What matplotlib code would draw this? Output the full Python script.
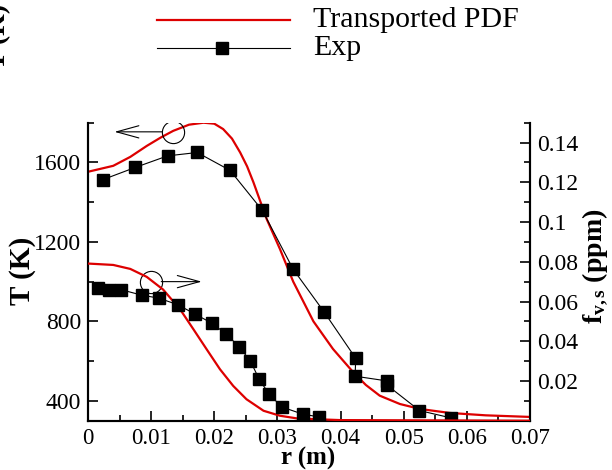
import numpy as np
import matplotlib
matplotlib.use("Agg")
import matplotlib.pyplot as plt
from matplotlib.ticker import MultipleLocator, FixedLocator, FormatStrFormatter

plt.rcParams['font.family'] = ['Liberation Serif', 'DejaVu Serif']
plt.rcParams['mathtext.fontset'] = 'custom'
plt.rcParams['mathtext.rm'] = 'Liberation Serif'
plt.rcParams['mathtext.bf'] = 'Liberation Serif:bold'
plt.rcParams['mathtext.it'] = 'Liberation Serif:italic'

# temperature, experiment
r_T_exp = [0.0024, 0.0075, 0.0126, 0.0173, 0.0225, 0.0276, 0.0325, 0.0374,
           0.0424, 0.0423, 0.0474, 0.0474, 0.0525, 0.0575]
T_exp = [1514, 1575, 1633, 1650, 1560, 1359, 1062, 847,
         614, 524, 500, 478, 351, 314]

# temperature, transported PDF
r_T_pdf = [0, 0.004, 0.0067, 0.0093, 0.0115, 0.0135, 0.016, 0.0183, 0.020,
           0.0214, 0.0228, 0.0241, 0.0252, 0.0262, 0.0283, 0.0304, 0.0325,
           0.0341, 0.0357, 0.0388, 0.042, 0.044, 0.0462, 0.0494, 0.0526,
           0.0573, 0.063, 0.07]
T_pdf = [1553, 1583, 1628, 1683, 1725, 1759, 1790, 1800, 1795,
         1768, 1720, 1650, 1580, 1500, 1315, 1164, 1000,
         900, 800, 661, 544, 480, 426, 384, 359,
         339, 327, 319]

# soot volume fraction, experiment
r_fv_exp = [0.0016, 0.0033, 0.0053, 0.0085, 0.0112, 0.0142, 0.017, 0.0196,
            0.0219, 0.0239, 0.0257, 0.0271, 0.0287, 0.0307, 0.034, 0.0366]
fv_exp = [0.0667, 0.0659, 0.0659, 0.0632, 0.0617, 0.0584, 0.0536, 0.0491,
          0.0436, 0.0373, 0.0302, 0.0209, 0.0133, 0.0069, 0.0033, 0.0019]

# soot volume fraction, transported PDF
r_fv_pdf = [0, 0.004, 0.0067, 0.0093, 0.0119, 0.0146, 0.0167, 0.0188, 0.0209,
            0.023, 0.0251, 0.0278, 0.0304, 0.033, 0.0357, 0.04, 0.07]
fv_pdf = [0.0791, 0.0784, 0.0764, 0.0724, 0.066, 0.056, 0.046, 0.0359, 0.0259,
          0.0175, 0.0108, 0.005, 0.0025, 0.0012, 0.0008, 0.0003, 0.0]

x_ticks = [0, 0.01, 0.02, 0.03, 0.04, 0.05, 0.06, 0.07]
x_labels = ['0', '0.01', '0.02', '0.03', '0.04', '0.05', '0.06', '0.07']
T_ticks = [400, 800, 1200, 1600]
fv_ticks = [0.02, 0.04, 0.06, 0.08, 0.1, 0.12, 0.14]

red = '#dd0000'
fs = 17
W, H = 612, 470

fig = plt.figure(figsize=(6.12, 4.70), dpi=100)
ax = fig.add_axes([88/W, 1-420.7/H, 442/W, 298/H])
ax2 = ax.twinx()

ax.plot(r_T_pdf, T_pdf, color=red, lw=1.6, zorder=3)
ax.plot(r_T_exp, T_exp, color='black', lw=0.8, marker='s', ms=8.5, zorder=4)
ax2.plot(r_fv_pdf, fv_pdf, color=red, lw=1.6, zorder=3)
ax2.plot(r_fv_exp, fv_exp, color='black', lw=0.8, marker='s', ms=8.5, zorder=4)

ax.set_xlim(0, 0.07)
ax.set_ylim(300, 1800)
ax2.set_ylim(0, 0.15)

ax.set_xticks(x_ticks)
ax.set_xticklabels(x_labels)
ax.xaxis.set_minor_locator(MultipleLocator(0.005))
ax.set_yticks(T_ticks)
ax.yaxis.set_minor_locator(MultipleLocator(200))
ax2.yaxis.set_major_locator(FixedLocator(fv_ticks))
ax2.yaxis.set_major_formatter(FormatStrFormatter('%g'))
ax2.yaxis.set_minor_locator(MultipleLocator(0.01))

for a in (ax, ax2):
    a.spines['top'].set_visible(False)
    for s in a.spines.values():
        s.set_linewidth(1.5)
    a.tick_params(which='both', direction='in', width=1.2, labelsize=fs)
    a.tick_params(which='major', length=7)
    a.tick_params(which='minor', length=4)
ax.tick_params(axis='x', pad=5, labelsize=16.5)
ax.tick_params(axis='y', pad=5)
ax2.tick_params(axis='y', pad=5)

# axis titles placed by hand
fig.text(308/W, 0.5/H, 'r (m)', fontsize=18, fontweight='bold',
         ha='center', va='bottom')
fig.text(23/W, 1-271/H, 'T (K)', fontsize=21, fontweight='bold',
         rotation=90, ha='center', va='center')
fig.text(595/W, 1-266/H, r'$\mathbf{f}_{\mathbf{v,s}}$ (ppm)', fontsize=20,
         fontweight='bold', rotation=90, ha='center', va='center')

# circles with arrows marking which axis each curve uses
arrow = dict(arrowstyle='->,head_length=0.8,head_width=0.22',
             mutation_scale=20, color='black', lw=0.8, shrinkA=0, shrinkB=0)
ax.plot([0.0135], [1754], marker='o', ms=16, mfc='none', mec='black', mew=0.8, zorder=5)
ax.annotate('', xy=(0.0042, 1754), xytext=(0.0118, 1754), arrowprops=arrow)
ax.plot([0.0099], [1000], marker='o', ms=16, mfc='none', mec='black', mew=0.8, zorder=5)
ax.annotate('', xy=(0.018, 1000), xytext=(0.0116, 1000), arrowprops=arrow)

# legend drawn at the top of the figure
fig.add_artist(plt.Line2D([157/W, 290/W], [1-20/H, 1-20/H],
                          color=red, lw=1.6, transform=fig.transFigure))
fig.add_artist(plt.Line2D([157/W, 290/W], [1-48/H, 1-48/H],
                          color='black', lw=0.8, transform=fig.transFigure))
fig.add_artist(plt.Line2D([222/W], [1-48/H], color='black', marker='s',
                          ms=8.5, transform=fig.transFigure))
fig.text(313/W, 1-20/H, 'Transported PDF', fontsize=21.5, va='center', ha='left')
fig.text(313/W, 1-48/H, 'Exp', fontsize=21.5, va='center', ha='left')

# cut-off label left over from the neighbouring panel
fig.text(11/W, 1-36/H, 'T (K)', fontsize=20, fontweight='bold',
         rotation=90, ha='right', va='center')

fig.savefig('out.png', dpi=100)
